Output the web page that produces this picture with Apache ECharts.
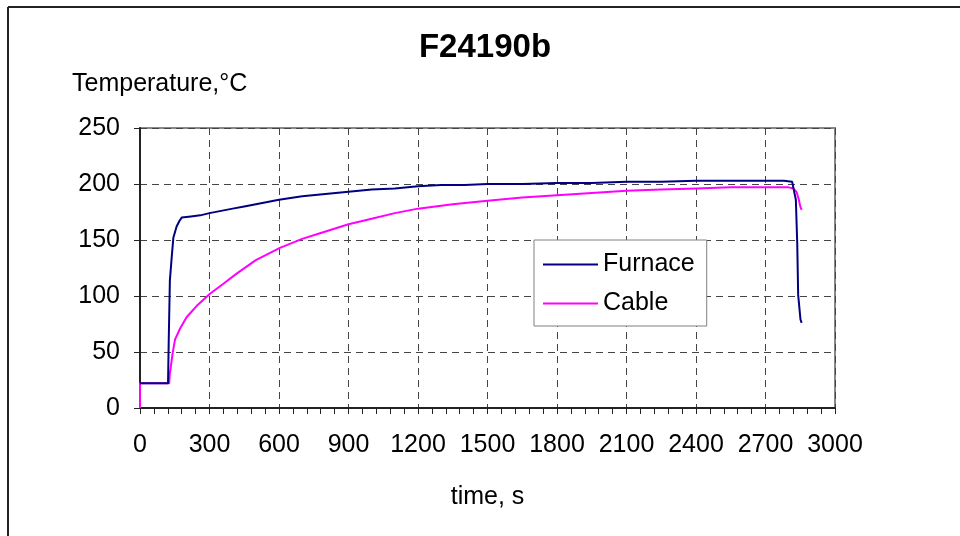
<!DOCTYPE html>
<html>
<head>
<meta charset="utf-8">
<script src="https://cdn.jsdelivr.net/npm/echarts@6/dist/echarts.min.js"></script>
<style>
  html, body { margin: 0; padding: 0; background: #fff; }
  #chart { width: 960px; height: 536px; }
</style>
</head>
<body>
<div id="chart"></div>
<script>
// readings
var furnaceTime = [0, 60, 121, 124, 129, 137, 144, 158, 170, 180, 220, 260, 300, 350, 400, 450, 500, 550, 600, 700, 800, 900, 1000, 1100, 1200, 1300, 1400, 1500, 1650, 1800, 1950, 2100, 2250, 2400, 2550, 2700, 2780, 2815, 2822, 2831, 2837, 2841, 2851, 2856]
var furnaceTemp = [22, 22, 22, 60, 114, 135, 152, 162, 167, 170, 171, 172, 174, 176, 178, 180, 182, 184, 186, 189, 191, 193, 195, 196, 198, 199, 199, 200, 200, 201, 201, 202, 202, 203, 203, 203, 203, 202, 195, 186, 147, 101, 79, 76]
var cableTime = [0, 0, 60, 126, 129, 141, 151, 173, 201, 244, 302, 360, 417, 500, 604, 700, 777, 900, 1000, 1100, 1200, 1350, 1500, 1650, 1800, 1950, 2100, 2250, 2400, 2550, 2700, 2800, 2820, 2834, 2844, 2850, 2856]
var cableTemp = [0, 22, 22, 22, 31, 49, 61, 71, 81, 91, 102, 111, 120, 132, 143, 151, 156, 164, 169, 174, 178, 182, 185, 188, 190, 192, 194, 195, 196, 197, 197, 197, 196, 193, 186, 180, 177]

function pairs(xs, ys) {
  return xs.map(function(x, i) { return [x, ys[i]] })
}

var chart = echarts.init(document.getElementById('chart'))
var font = 'Liberation Sans, Arial, sans-serif'

chart.setOption({
  animation: false,
  backgroundColor: '#fff',
  textStyle: { fontFamily: font },
  title: {
    text: 'F24190b',
    left: 480,
    textAlign: 'center',
    top: 26,
    textStyle: { fontSize: 33, fontWeight: 'bold', color: '#000', fontFamily: font }
  },
  graphic: [
    { type: 'line', shape: { x1: 8, y1: 7, x2: 960, y2: 7 }, style: { stroke: '#222', lineWidth: 2 } },
    { type: 'line', shape: { x1: 8, y1: 7, x2: 8, y2: 536 }, style: { stroke: '#222', lineWidth: 2 } },
    { type: 'text', left: 72, top: 72, style: { text: 'Temperature,°C', fontSize: 25, fill: '#000', fontFamily: font } }
  ],
  legend: {
    orient: 'vertical',
    left: 534,
    top: 240,
    padding: [12, 12, 10, 9],
    itemGap: 14,
    itemWidth: 55,
    itemHeight: 2,
    icon: 'rect',
    backgroundColor: '#fff',
    borderColor: '#808080',
    borderWidth: 1,
    textStyle: { fontSize: 25, color: '#000', fontFamily: font },
    data: ['Furnace', 'Cable']
  },
  grid: {
    left: 140,
    top: 128,
    right: 125,
    bottom: 128,
    show: true,
    borderColor: '#888',
    borderWidth: 2
  },
  xAxis: {
    type: 'value',
    min: 0,
    max: 3000,
    interval: 300,
    name: 'time, s',
    nameLocation: 'middle',
    nameGap: 77,
    nameTextStyle: { fontSize: 25, color: '#000' },
    axisLine: { lineStyle: { color: '#222', width: 2 } },
    axisTick: { length: 6, lineStyle: { color: '#222' } },
    minorTick: { show: true, splitNumber: 5, length: 6, lineStyle: { color: '#222' } },
    axisLabel: { fontSize: 25, color: '#000', margin: 25, formatter: function(v) { return String(v) } },
    splitLine: { lineStyle: { color: '#444', type: [7, 5] } }
  },
  yAxis: {
    type: 'value',
    min: 0,
    max: 250,
    interval: 50,
    axisLine: { show: true, lineStyle: { color: '#222', width: 2 } },
    axisTick: { show: true, length: 6, lineStyle: { color: '#222' } },
    axisLabel: { fontSize: 25, color: '#000', margin: 20, formatter: function(v) { return String(v) } },
    splitLine: { lineStyle: { color: '#444', type: [7, 5] } }
  },
  series: [
    {
      name: 'Furnace',
      type: 'line',
      symbol: 'none',
      data: pairs(furnaceTime, furnaceTemp),
      lineStyle: { color: '#000080', width: 2 },
      itemStyle: { color: '#000080' },
      z: 3
    },
    {
      name: 'Cable',
      type: 'line',
      symbol: 'none',
      data: pairs(cableTime, cableTemp),
      lineStyle: { color: '#ff00ff', width: 2 },
      itemStyle: { color: '#ff00ff' },
      z: 2
    }
  ]
})
</script>
</body>
</html>
